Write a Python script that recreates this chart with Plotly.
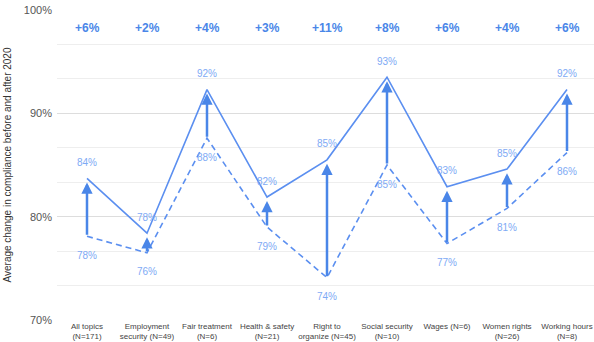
import plotly.graph_objects as go

categories = ["All topics<br>(N=171)", "Employment<br>security (N=49)", "Fair treatment<br>(N=6)",
              "Health & safety<br>(N=21)", "Right to<br>organize (N=45)", "Social security<br>(N=10)",
              "Wages (N=6)", "Women rights<br>(N=26)", "Working hours<br>(N=8)"]
before = [78.1, 76.5, 87.6, 79.0, 74.1, 85.0, 77.4, 80.8, 86.2]
after = [83.7, 78.4, 92.3, 81.9, 85.5, 93.5, 82.9, 84.6, 92.3]
before_labels = ["78%", "76%", "88%", "79%", "74%", "85%", "77%", "81%", "86%"]
after_labels = ["84%", "78%", "92%", "82%", "85%", "93%", "83%", "85%", "92%"]
change_labels = ["+6%", "+2%", "+4%", "+3%", "+11%", "+8%", "+6%", "+4%", "+6%"]
y_ticks = [70, 80, 90, 100]
y_tick_text = ["70%", "80%", "90%", "100%"]

LINE = "#5b8ff0"
ARROW = "#4a86e8"
LABEL = "#7eaaf5"
FONT = "Liberation Sans, Arial, sans-serif"

x = list(range(len(categories)))

fig = go.Figure()
fig.add_trace(go.Scatter(x=x, y=before, mode="lines", line=dict(color=LINE, width=1.6, dash="6px,4px"),
                         hoverinfo="skip", showlegend=False))
fig.add_trace(go.Scatter(x=x, y=after, mode="lines", line=dict(color=LINE, width=1.6),
                         hoverinfo="skip", showlegend=False))

annotations = []
for i in x:
    annotations.append(dict(x=i, y=after[i], ax=i, ay=before[i], xref="x", yref="y", axref="x", ayref="y",
                            text="", showarrow=True, arrowhead=2, arrowsize=0.9, arrowwidth=2.5,
                            arrowcolor=ARROW, standoff=4))
    annotations.append(dict(x=i, y=after[i], xref="x", yref="y", text=after_labels[i], showarrow=False,
                            yshift=16, font=dict(color=LABEL, size=10, family=FONT)))
    annotations.append(dict(x=i, y=before[i], xref="x", yref="y", text=before_labels[i], showarrow=False,
                            yshift=-19, font=dict(color=LABEL, size=10, family=FONT)))
    annotations.append(dict(x=i, y=98.3, xref="x", yref="y", text="<b>" + change_labels[i] + "</b>",
                            showarrow=False, font=dict(color=ARROW, size=12, family=FONT)))

fig.update_layout(
    width=594, height=342,
    margin=dict(l=57, r=0, t=10, b=22),
    plot_bgcolor="white", paper_bgcolor="white",
    annotations=annotations,
    font=dict(family=FONT),
    xaxis=dict(range=[-0.5, 8.45], tickvals=x, ticktext=categories, showgrid=False, zeroline=False,
               tickfont=dict(size=8, color="#444444"), ticks="", automargin=False, fixedrange=True),
    yaxis=dict(range=[70, 100], tickvals=y_ticks, ticktext=y_tick_text, showgrid=True,
               gridcolor="#dddddd", zeroline=False, tickfont=dict(size=11, color="#555555"),
               ticklabelstandoff=4,
               minor=dict(dtick=10/3, showgrid=True, gridcolor="#eeeeee", tick0=70),
               title=dict(text="Average change in compliance before and after 2020",
                          font=dict(size=10, color="#333333"), standoff=10),
               automargin=False),
)
fig.write_html("out.html")
